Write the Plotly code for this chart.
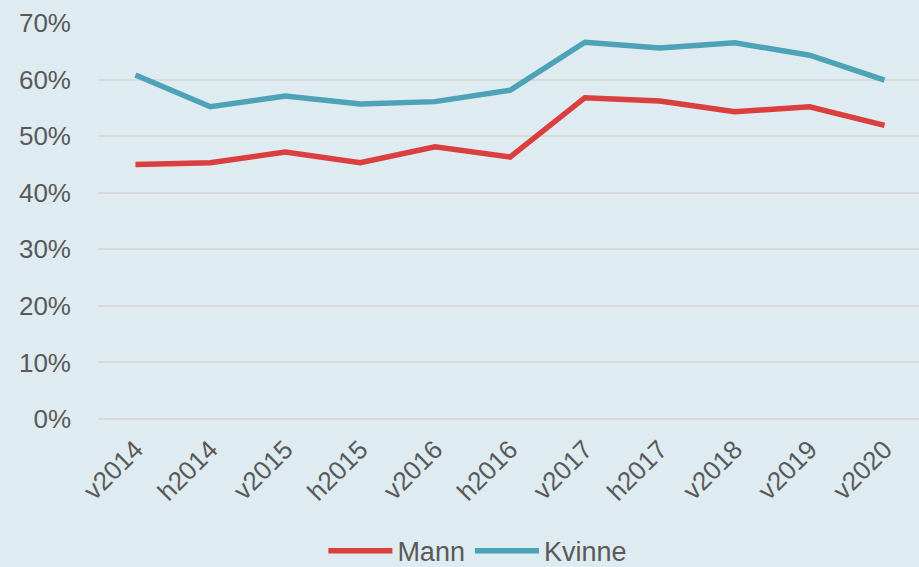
import plotly.graph_objects as go

# ================================ Datos ================================
semestre = ['v2014', 'h2014', 'v2015', 'h2015', 'v2016', 'h2016',
            'v2017', 'h2017', 'v2018', 'v2019', 'v2020']
mann = [0.450, 0.453, 0.472, 0.453, 0.481, 0.463,
        0.568, 0.562, 0.543, 0.552, 0.519]
kvinne = [0.608, 0.552, 0.571, 0.557, 0.561, 0.581,
          0.666, 0.656, 0.665, 0.643, 0.599]

FONT = 'Liberation Sans, Arial, sans-serif'
TEXT = '#595959'
GRID = '#d9d9d9'
BG = '#deebf0'

# ================================ Gráfico ================================
fig = go.Figure()
fig.add_trace(go.Scatter(x=semestre, y=mann, mode='lines', name='Mann',
                         line=dict(color='#dc3d3d', width=5.5)))
fig.add_trace(go.Scatter(x=semestre, y=kvinne, mode='lines', name='Kvinne',
                         line=dict(color='#4da2b8', width=5.5)))

fig.update_layout(
    width=919,
    height=567,
    paper_bgcolor=BG,
    plot_bgcolor=BG,
    font=dict(family=FONT, size=26, color=TEXT),
    margin=dict(t=23, b=148, l=98, r=0),
    showlegend=True,
    legend=dict(
        orientation='h',
        xref='container', yref='container',
        x=0.52, y=0.028,
        xanchor='center', yanchor='middle',
        itemwidth=64,
        font=dict(size=27, color=TEXT),
        bgcolor='rgba(0,0,0,0)',
        tracegroupgap=0,
    ),
    xaxis=dict(
        type='category',
        range=[-0.5, 10.46],
        showgrid=False,
        showline=False,
        zeroline=False,
        tickangle=-45,
        ticks='',
        ticklabelstandoff=9,
        tickfont=dict(size=26, color=TEXT),
    ),
    yaxis=dict(
        range=[0, 0.7],
        dtick=0.1,
        tickformat='.0%',
        showgrid=True,
        gridcolor=GRID,
        gridwidth=1.5,
        zeroline=True,
        zerolinecolor=GRID,
        zerolinewidth=1.5,
        showline=False,
        ticks='',
        ticklabelstandoff=26,
        tickfont=dict(size=26, color=TEXT),
    ),
)

# quitar el margen por defecto del body para que el gráfico ocupe toda la ventana
fig.write_html('out.html', config={'displayModeBar': False},
               post_script="document.body.style.margin='0';")
